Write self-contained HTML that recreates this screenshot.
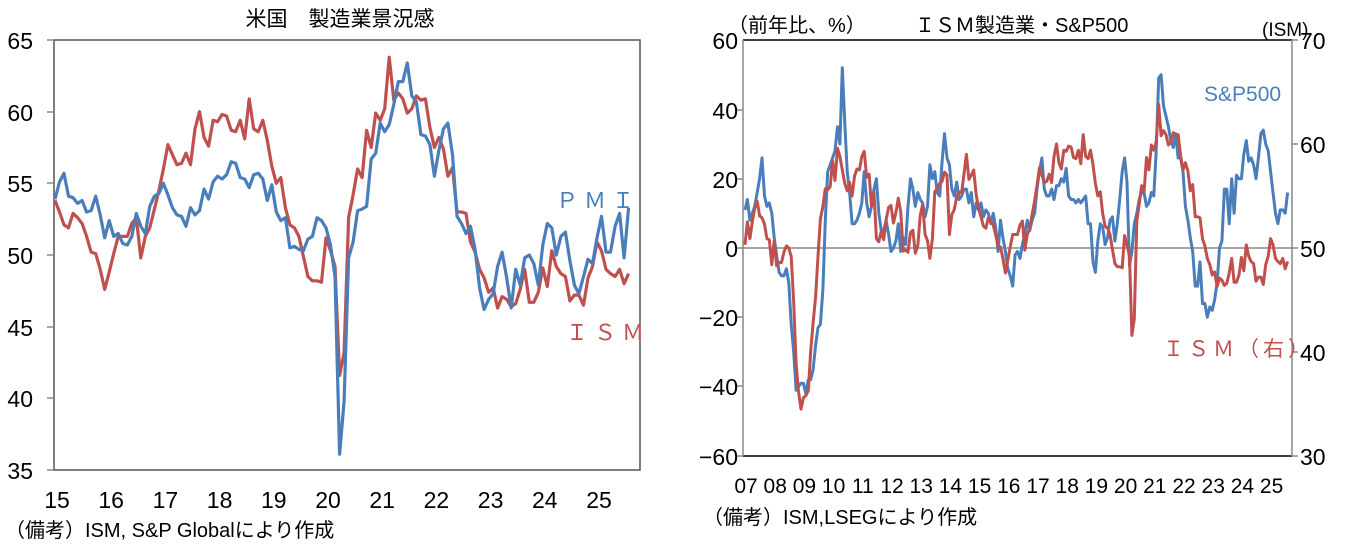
<!DOCTYPE html>
<html><head><meta charset="utf-8"><style>
html,body{margin:0;padding:0;background:#fff;}
svg{display:block;font-family:"Liberation Sans","Noto Sans CJK JP",sans-serif;}
.j{font-family:"Liberation Sans","Noto Sans CJK JP",sans-serif;}
</style></head><body>
<svg id="s" width="1350" height="547" viewBox="0 0 1350 547" xmlns="http://www.w3.org/2000/svg">
<rect width="1350" height="547" fill="#fff"/>
<text class="j" x="340" y="26" font-size="21" text-anchor="middle" fill="#000">米国　製造業景況感</text>
<rect x="54" y="40" width="586" height="430" fill="none" stroke="#555" stroke-width="1.5"/>
<g stroke="#888" stroke-width="1.5">
<line x1="47" y1="40" x2="54" y2="40"/><line x1="47" y1="112" x2="54" y2="112"/><line x1="47" y1="183" x2="54" y2="183"/><line x1="47" y1="255" x2="54" y2="255"/><line x1="47" y1="327" x2="54" y2="327"/><line x1="47" y1="398" x2="54" y2="398"/><line x1="47" y1="470" x2="54" y2="470"/>
</g>
<g font-size="23" text-anchor="end" fill="#000">
<text x="33" y="49">65</text><text x="33" y="121">60</text><text x="33" y="192">55</text><text x="33" y="264">50</text><text x="33" y="336">45</text><text x="33" y="407">40</text><text x="33" y="479">35</text>
</g>
<g id="lx" font-size="23" text-anchor="middle" fill="#000"></g>
<text class="j" x="5" y="537" font-size="20" fill="#000">（備考）ISM, S&amp;P Globalにより作成</text>
<text class="j" x="556" y="208" font-size="22" fill="#4a7ebb" letter-spacing="6">ＰＭＩ</text>
<text class="j" x="566" y="340" font-size="22" fill="#c0504d" letter-spacing="6">ＩＳＭ</text>
<polyline id="lism" fill="none" stroke="#c0504d" stroke-width="3.2" stroke-linejoin="round"/>
<polyline id="lpmi" fill="none" stroke="#4a7ebb" stroke-width="3.2" stroke-linejoin="round"/>

<text x="738" y="49" font-size="23" text-anchor="end">60</text>
<text class="j" x="728" y="32" font-size="20">（前年比、%）</text>
<text class="j" x="915" y="32" font-size="20">ＩＳＭ製造業・S&amp;P500</text>
<text class="j" x="1262" y="36" font-size="19">(ISM)</text>
<line x1="743" y1="40" x2="1292" y2="40" stroke="#000" stroke-width="1.5"/>
<line x1="743" y1="456" x2="1292" y2="456" stroke="#000" stroke-width="1.5"/>
<line x1="743" y1="40" x2="743" y2="456" stroke="#888" stroke-width="1.5"/>
<line x1="1292" y1="40" x2="1292" y2="456" stroke="#888" stroke-width="1.5"/>
<line x1="737" y1="248" x2="1298" y2="248" stroke="#888" stroke-width="1.5"/>
<g stroke="#888" stroke-width="1.5">
<line x1="737" y1="110" x2="743" y2="110"/><line x1="737" y1="179" x2="743" y2="179"/><line x1="737" y1="317" x2="743" y2="317"/><line x1="737" y1="386" x2="743" y2="386"/><line x1="737" y1="456" x2="743" y2="456"/>
<line x1="1292" y1="40" x2="1298" y2="40"/><line x1="1292" y1="144" x2="1298" y2="144"/><line x1="1292" y1="352" x2="1298" y2="352"/><line x1="1292" y1="456" x2="1298" y2="456"/>
</g>
<g font-size="23" text-anchor="end">
<text x="738" y="119">40</text><text x="738" y="188">20</text><text x="738" y="257">0</text><text x="738" y="326">−20</text><text x="738" y="395">−40</text><text x="738" y="465">−60</text>
</g>
<g font-size="23">
<text x="1300" y="49">70</text><text x="1300" y="153">60</text><text x="1300" y="257">50</text><text x="1300" y="361">40</text><text x="1300" y="465">30</text>
</g>
<g id="rx" font-size="21" text-anchor="middle"></g>
<text class="j" x="703" y="524" font-size="20">（備考）ISM,LSEGにより作成</text>
<text x="1204" y="101" font-size="21" fill="#4a7ebb">S&amp;P500</text>
<text class="j" x="1163" y="356" font-size="21" fill="#c0504d" letter-spacing="4">ＩＳＭ（右）</text>
<polyline id="rsp" fill="none" stroke="#4a7ebb" stroke-width="3" stroke-linejoin="round"/>
<polyline id="rism" fill="none" stroke="#c0504d" stroke-width="3" stroke-linejoin="round"/>
</svg>
<script>
var NS="http://www.w3.org/2000/svg";
function T(g,x,y,s){var t=document.createElementNS(NS,"text");t.setAttribute("x",x);t.setAttribute("y",y);t.textContent=s;document.getElementById(g).appendChild(t);}
for(var i=0;i<11;i++)T("lx",57+i*54.2,508,String(15+i));
for(var i=0;i<19;i++)T("rx",746+i*29.2,493,("0"+(7+i)).slice(-2));
var ism1525=[53.8,53,52.1,51.9,52.9,52.6,52.2,51.3,50.2,50.1,49,47.6,
48.8,50.1,51.3,51.3,51.3,52.2,52.6,49.8,51.3,51.9,53.2,54.5,
56,57.7,57,56.3,56.4,57.1,56.3,58.8,60,58.2,57.6,59.4,
59.3,59.8,59.7,58.7,58.6,59.4,58.1,60.9,58.8,58.6,59.4,58,
56.2,55,55.4,53.3,52.1,51.9,51.3,49.9,48.5,48.2,48.2,48.1,
51.2,50.3,49.2,41.6,43.2,52.6,54.2,56,55.4,58.7,57.5,59.9,
59.4,60.2,63.8,60.8,61.3,60.9,59.9,60.2,61.1,60.8,60.9,58.9,
57.5,58.2,57.4,55.5,56.1,53,53,52.9,50.9,50.2,49,48.4,
47.4,47.7,46.3,47.1,46.9,46.4,46.6,47.6,49,46.7,46.7,47.4,
49.1,47.8,50.3,49.2,48.7,48.5,46.8,47.2,47.2,46.5,48.4,49.2,
50.9,50.3,49,48.7,48.5,49,48,48.7];
var pmi=[53.9,55.1,55.7,54.1,54,53.6,53.8,53,53.1,54.1,52.8,51.2,
52.4,51.3,51.5,50.8,50.7,51.3,52.9,52,51.5,53.4,54.1,54.3,
55,54.2,53.3,52.8,52.7,52,53.3,52.8,53.1,54.6,53.9,55.1,
55.5,55.3,55.6,56.5,56.4,55.4,55.3,54.7,55.6,55.7,55.3,53.8,
54.9,53,52.4,52.6,50.5,50.6,50.4,50.3,51.1,51.3,52.6,52.4,
51.9,50.7,48.5,36.1,39.8,49.8,50.9,53.1,53.2,53.4,56.7,57.1,
59.2,58.6,59.1,60.5,62.1,62.1,63.4,61.1,60.7,58.4,58.3,57.7,
55.5,57.3,58.8,59.2,57,52.7,52.2,51.5,52,50.4,47.7,46.2,
46.9,47.3,49.2,50.2,48.4,46.3,49,47.9,49.8,50,49.4,47.9,
50.7,52.2,51.9,50,51.3,51.6,49.6,47.9,47.3,48.5,49.7,49.4,
51.2,52.7,50.2,50.2,52,52.9,49.8,53.3];
function pts(a,x0,dx,f){return a.map(function(v,i){return (x0+i*dx).toFixed(1)+","+f(v).toFixed(1)}).join(" ");}
var dl=54.2/12;
document.getElementById("lism").setAttribute("points",pts(ism1525,55,dl,function(v){return 40+(65-v)*14.333}));
document.getElementById("lpmi").setAttribute("points",pts(pmi,55,dl,function(v){return 40+(65-v)*14.333}));
var ism0714=[50.3,52.5,50.9,52.5,53.8,54.5,53.1,52.9,52.3,50.9,50.8,48.4,
50.7,48.3,48.6,48.6,49.6,50.2,50,49.2,44.8,38.9,36.2,34.5,
35.6,35.8,36.3,40.1,42.8,45.3,49.2,52.8,54,55.7,55.6,55.9,
58.4,56.5,59.6,58.8,57.5,56.2,55.5,56.3,55,56.9,57.6,57.5,
58.8,59.3,56.8,57.1,54,55.3,50.9,50.6,51.6,50.8,52.7,53.9,
54.1,52.4,53.4,54.8,53.5,49.7,49.8,49.6,51.5,51.7,49.5,50.2,
53.1,54.2,51.3,50.7,49,50.9,55.4,55.7,56.2,56.4,57.3,57,
51.3,53.2,53.7,54.9,55.4,55.3,57.1,59,56.6,57,57.5,55.1];
var ismAll=ism0714.concat(ism1525);
var sp=[11,14,8,10,12,16,20,26,15,12,13,10,
3,-2,-7,-8,-8,-6,-10,-22,-30,-41,-40,-39,
-39,-42,-38,-38,-35,-28,-23,-22,-12,8,22,24,
26,28,35,30,52,36,22,16,7,7,8,10,
13,22,13,9,12,17,20,10,5,5,8,4,
-1,0,2,7,-1,3,1,12,20,17,12,16,
14,13,9,12,24,20,22,16,15,25,33,26,
24,17,15,19,14,15,17,17,13,16,9,13,
11,13,9,11,10,7,10,6,-1,8,3,-1,
-6,-8,-11,-2,-1,-3,1,4,8,5,8,10,
17,22,26,17,15,15,17,14,18,18,20,19,
23,15,14,14,13,14,13,14,15,7,7,-4,
-7,2,7,6,1,3,8,9,2,7,14,22,
26,19,-5,-1,7,10,14,16,16,12,13,16,
15,28,49,50,41,38,35,31,29,33,26,26,
22,12,8,3,-1,-11,-11,-4,-16,-16,-20,-17,
-18,-15,-10,0,2,17,17,7,20,10,21,20,
20,27,31,25,26,24,20,26,33,34,30,28,
22,16,10,7,11,11,10,16];
var dr=29.2/12;
document.getElementById("rsp").setAttribute("points",pts(sp,745,dr,function(v){return 248-v*3.467}));
document.getElementById("rism").setAttribute("points",pts(ismAll,745,dr,function(v){return 248-(v-50)*10.4}));
</script>
</body></html>
